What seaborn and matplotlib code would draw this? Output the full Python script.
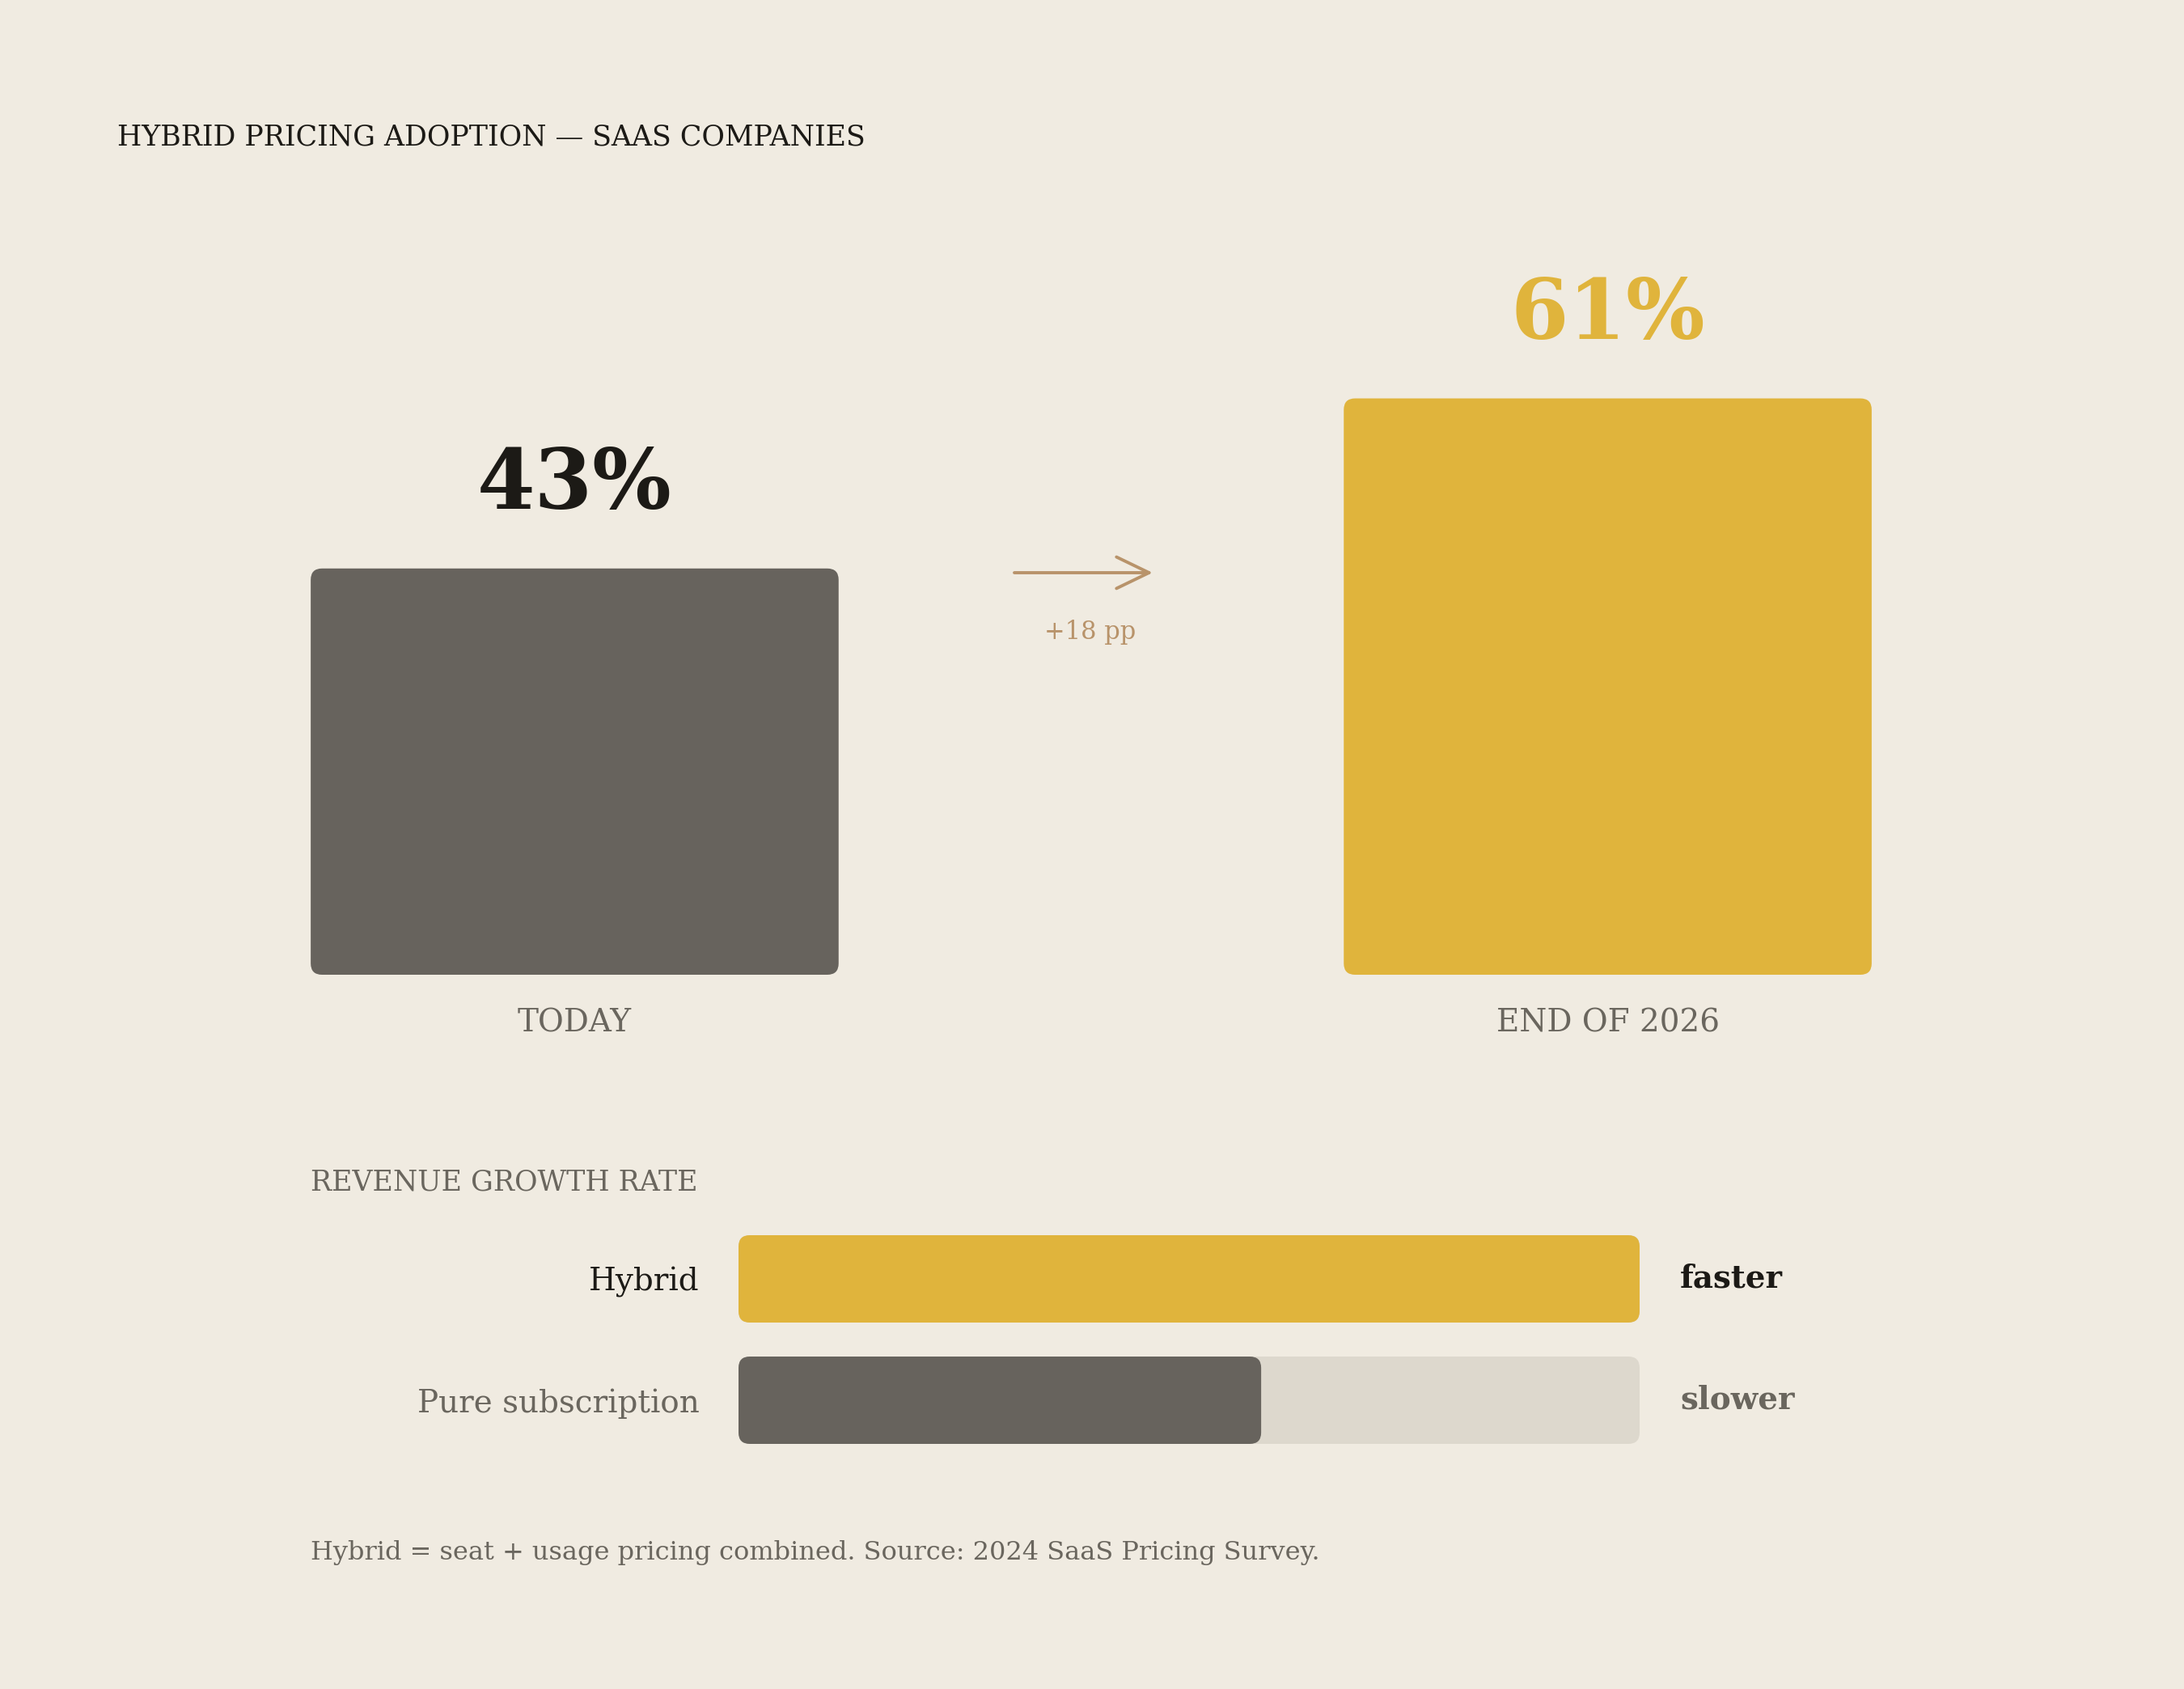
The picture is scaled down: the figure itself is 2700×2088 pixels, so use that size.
import matplotlib
matplotlib.use("Agg")
import matplotlib.pyplot as plt
from matplotlib.patches import FancyBboxPatch, FancyArrowPatch
import seaborn as sns
import pandas as pd

# Data
periods = ["TODAY", "END OF 2026"]
adoption = [43, 61]
change_label = "+18 pp"

models = ["Hybrid", "Pure subscription"]
growth_index = [100, 58]
growth_words = ["faster", "slower"]

title = "HYBRID PRICING ADOPTION \u2014 SAAS COMPANIES"
section = "REVENUE GROWTH RATE"
footnote = "Hybrid = seat + usage pricing combined. Source: 2024 SaaS Pricing Survey."

# Colours
BG = "#F0EBE1"
GOLD = "#E0B43C"
GRAY = "#67635D"
TRACK = "#DDD8CD"
DARK = "#1C1A16"
MUTED = "#6A665E"
BROWN = "#B8936A"

sns.set_theme(style="white")
plt.rcParams["font.family"] = ["DejaVu Serif"]

W, H = 2700, 2088
fig = plt.figure(figsize=(27, 20.88), dpi=100, facecolor=BG)


def fx(px):
    return px / W


def fy(py):
    return 1 - py / H


def round_bars(ax, radius_px):
    # swap seaborn's square bars for rounded ones with the same geometry
    x0, y0 = ax.transData.transform((0, 0))
    x1, y1 = ax.transData.transform((1, 1))
    sx, sy = abs(x1 - x0), abs(y1 - y0)
    bars = list(ax.patches)
    for bar in bars:
        x, y = bar.get_xy()
        w, h = bar.get_width(), bar.get_height()
        fc = bar.get_facecolor()
        z = bar.get_zorder()
        bar.remove()
        ax.add_patch(FancyBboxPatch(
            (x, y), w, h,
            boxstyle=f"round,pad=0,rounding_size={radius_px / sx}",
            mutation_aspect=sx / sy, fc=fc, ec="none", zorder=z))


def clean(ax):
    ax.set_facecolor("none")
    for s in ax.spines.values():
        s.set_visible(False)
    ax.set_xlabel("")
    ax.set_ylabel("")


# Top: adoption today vs end of 2026
top = pd.DataFrame({"period": periods, "adoption": adoption})
ax = fig.add_axes([fx(384), fy(1205), (2314 - 384) / W, 1168 / H])
sns.barplot(data=top, x="period", y="adoption", hue="period",
            palette=[GRAY, GOLD], width=0.511, saturation=1,
            legend=False, ax=ax)
clean(ax)
ax.set_xlim(-0.2556, 1.2556)
ax.set_ylim(0, 100)
ax.set_xticks([])
ax.set_yticks([])
round_bars(ax, 14)

for i, (lab, val) in enumerate(zip(periods, adoption)):
    ax.annotate(f"{val}%", xy=(i, val), xytext=(0, 53), textcoords="offset points",
                ha="center", va="baseline", fontsize=74, fontweight="bold",
                color=DARK if i == 0 else GOLD, annotation_clip=False)
    ax.annotate(lab, xy=(i, 0), xytext=(0, -51), textcoords="offset points",
                ha="center", va="baseline", fontsize=28, color=MUTED,
                annotation_clip=False)

arrow = FancyArrowPatch((fx(1254), fy(708)), (fx(1425), fy(708)),
                        transform=fig.transFigure,
                        arrowstyle="->,head_length=29,head_width=14",
                        mutation_scale=1, shrinkA=0, shrinkB=0,
                        color=BROWN, lw=2.8)
fig.add_artist(arrow)
fig.text(fx(1348), fy(782), change_label, ha="center", va="center",
         fontsize=22, color=BROWN)

# Bottom: revenue growth comparison
fig.text(fx(384), fy(1472), section, ha="left", va="baseline",
         fontsize=25, color=MUTED)

growth = pd.DataFrame({"model": models, "growth": growth_index})
axb = fig.add_axes([fx(913), fy(1785), (2027 - 913) / W, 258 / H])
sns.barplot(x=[100] * len(models), y=models, color=TRACK, width=0.72,
            saturation=1, orient="h", ax=axb)
sns.barplot(data=growth, x="growth", y="model", hue="model",
            palette=[GOLD, GRAY], width=0.72, saturation=1,
            legend=False, orient="h", ax=axb)
clean(axb)
axb.set_xlim(0, 100)
axb.set_ylim(1.36, -0.36)
axb.set_xticks([])
axb.tick_params(axis="y", length=0, pad=35, labelsize=28)
for tl, c in zip(axb.get_yticklabels(), [DARK, MUTED]):
    tl.set_color(c)
round_bars(axb, 14)

for i, word in enumerate(growth_words):
    axb.annotate(word, xy=(100, i), xytext=(36, 0), textcoords="offset points",
                 ha="left", va="center", fontsize=28, fontweight="bold",
                 color=DARK if i == 0 else MUTED, annotation_clip=False)

fig.text(fx(145), fy(179), title, ha="left", va="baseline",
         fontsize=25, color=DARK)
fig.text(fx(384), fy(1928), footnote, ha="left", va="baseline",
         fontsize=23, color=MUTED)

fig.savefig("out.png", dpi=100, facecolor=BG)
